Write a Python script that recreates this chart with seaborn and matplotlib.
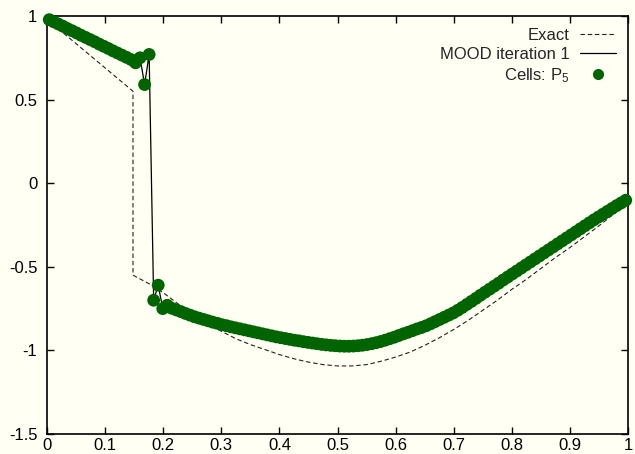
import numpy as np
import pandas as pd
import matplotlib
matplotlib.use("Agg")
import matplotlib.pyplot as plt
import seaborn as sns
from matplotlib.lines import Line2D

# ---- data ----
exact_x = [0.0, 0.148, 0.148, 0.175, 0.20, 0.225, 0.25, 0.275, 0.30, 0.325, 0.35,
           0.375, 0.40, 0.425, 0.45, 0.475, 0.50, 0.525, 0.55, 0.575, 0.60,
           0.625, 0.65, 0.675, 0.70, 0.725, 0.75, 0.775, 0.80, 0.825, 0.85,
           0.875, 0.90, 0.925, 0.95, 0.975, 1.0]
exact_y = [0.98, 0.55, -0.55, -0.60, -0.655, -0.72, -0.785, -0.84, -0.885, -0.93,
           -0.965, -0.995, -1.025, -1.05, -1.07, -1.085, -1.093, -1.093, -1.085,
           -1.065, -1.04, -1.01, -0.97, -0.925, -0.875, -0.82, -0.76, -0.70,
           -0.635, -0.575, -0.51, -0.445, -0.385, -0.32, -0.255, -0.185, -0.115]

n_cells = 128
cell_y = [
    0.978, 0.965, 0.952, 0.939, 0.925, 0.912, 0.899, 0.885, 0.872, 0.859,
    0.846, 0.832, 0.819, 0.806, 0.792, 0.779, 0.766, 0.753, 0.740, 0.720,
    0.750, 0.590, 0.770, -0.700, -0.610, -0.750, -0.730, -0.748, -0.758, -0.768,
    -0.779, -0.789, -0.799, -0.807, -0.815, -0.823, -0.831, -0.838, -0.846, -0.852,
    -0.859, -0.865, -0.871, -0.877, -0.883, -0.889, -0.895, -0.901, -0.907, -0.913,
    -0.919, -0.924, -0.929, -0.934, -0.939, -0.943, -0.948, -0.952, -0.956, -0.960,
    -0.964, -0.967, -0.970, -0.972, -0.974, -0.975, -0.975, -0.974, -0.972, -0.969,
    -0.965, -0.960, -0.954, -0.947, -0.939, -0.930, -0.921, -0.911, -0.901, -0.892,
    -0.882, -0.872, -0.863, -0.853, -0.841, -0.828, -0.815, -0.802, -0.789, -0.776,
    -0.760, -0.743, -0.725, -0.707, -0.689, -0.670, -0.652, -0.634, -0.616, -0.598,
    -0.579, -0.561, -0.543, -0.525, -0.507, -0.489, -0.471, -0.453, -0.435, -0.417,
    -0.399, -0.381, -0.363, -0.345, -0.327, -0.309, -0.291, -0.273, -0.255, -0.237,
    -0.219, -0.202, -0.185, -0.168, -0.151, -0.134, -0.118, -0.102,
]
cell_x = (np.arange(n_cells) + 0.5) / n_cells

x_ticks = [0, 0.1, 0.2, 0.3, 0.4, 0.5, 0.6, 0.7, 0.8, 0.9, 1]
x_tick_labels = ["0", "0.1", "0.2", "0.3", "0.4", "0.5", "0.6", "0.7", "0.8", "0.9", "1"]
y_ticks = [-1.5, -1, -0.5, 0, 0.5, 1]
y_tick_labels = ["-1.5", "-1", "-0.5", "0", "0.5", "1"]

labels = ["Exact", "MOOD iteration 1", "Cells: P$_5$"]

# ---- style ----
sns.set_style("ticks")
plt.rcParams["font.family"] = ["Liberation Sans", "DejaVu Sans"]
plt.rcParams["mathtext.default"] = "regular"
plt.rcParams["font.size"] = 12

bg = "#fffff4"
green = "#006400"

fig = plt.figure(figsize=(6.35, 4.54), dpi=100, facecolor=bg)
ax = fig.add_axes([47 / 635, 1 - 434 / 454, (628 - 47) / 635, (434 - 16) / 454])
ax.set_facecolor(bg)

df_exact = pd.DataFrame({"x": exact_x, "y": exact_y})
df_cells = pd.DataFrame({"x": cell_x, "y": cell_y})

sns.lineplot(data=df_exact, x="x", y="y", ax=ax, estimator=None, sort=False,
             color="#222222", lw=0.8, dashes=False, zorder=2)
ax.lines[-1].set_dashes((4, 2.5))
sns.lineplot(data=df_cells, x="x", y="y", ax=ax, estimator=None, sort=False,
             color="black", lw=0.9, zorder=3)
sns.scatterplot(data=df_cells, x="x", y="y", ax=ax, s=85, color=green,
                edgecolor="none", linewidth=0, zorder=4, clip_on=False)

ax.set_xlim(0, 1)
ax.set_ylim(-1.5, 1)
ax.set_xticks(x_ticks)
ax.set_xticklabels(x_tick_labels)
ax.set_yticks(y_ticks)
ax.set_yticklabels(y_tick_labels)
ax.set_xlabel("")
ax.set_ylabel("")
ax.tick_params(direction="in", length=5, width=1, top=True, right=True,
               labelsize=12, colors="black")
ax.tick_params(axis="x", pad=3)
ax.tick_params(axis="y", pad=7)
for s in ax.spines.values():
    s.set_visible(True)
    s.set_linewidth(1.2)
    s.set_color("black")

handles = [
    Line2D([], [], color="#222222", lw=0.8, dashes=(4, 2.5)),
    Line2D([], [], color="black", lw=0.9),
    Line2D([], [], color=green, marker="o", markersize=8, lw=0, markeredgewidth=0),
]
leg = ax.legend(handles, labels, loc="upper right", frameon=False, markerfirst=False,
                handlelength=2.2, handletextpad=0.6, labelspacing=0.25,
                borderaxespad=0.3, fontsize=12)

fig.savefig("out.png", dpi=100, facecolor=bg)
